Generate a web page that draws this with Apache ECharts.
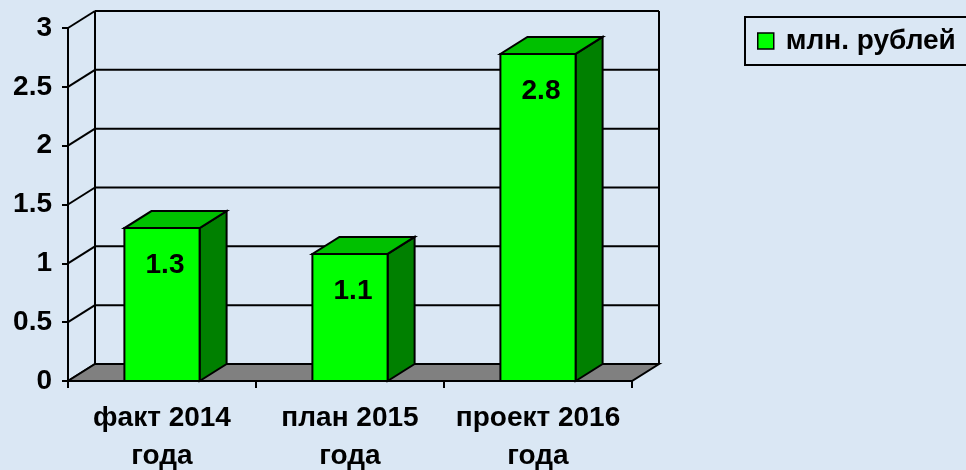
<!DOCTYPE html>
<html>
<head>
<meta charset="utf-8">
<script src="https://cdn.jsdelivr.net/npm/echarts@6/dist/echarts.min.js"></script>
<style>
  html, body { margin: 0; padding: 0; background: #dae7f4; }
  #chart { width: 966px; height: 470px; }
</style>
</head>
<body>
<div id="chart"></div>
<script>
// categories and values
const categories = ['факт 2014\nгода', 'план 2015\nгода', 'проект 2016\nгода'];
const values = [1.3, 1.08, 2.78];
const yTicks = [0, 0.5, 1, 1.5, 2, 2.5, 3];
const seriesName = 'млн. рублей';

// 3D depth offset of the walls and bars
const DX = 27;
const DY = -17;
const FONT = 'Liberation Sans, Arial, sans-serif';
const FONT_SIZE = 28;
const LINE = { stroke: '#000', lineWidth: 2 };

const chart = echarts.init(document.getElementById('chart'));

// walls: back gridlines, left wall diagonals, grey floor
function renderWalls (params, api) {
  const cs = params.coordSys;
  const x0 = cs.x;
  const x1 = cs.x + cs.width;
  const y = api.coord([0, api.value(1)])[1];
  const children = [
    { type: 'line', shape: { x1: x0 + DX, y1: y + DY, x2: x1 + DX, y2: y + DY }, style: LINE },
    { type: 'line', shape: { x1: x0, y1: y, x2: x0 + DX, y2: y + DY }, style: LINE }
  ];
  if (params.dataIndex === 0) {
    const yTop = api.coord([0, yTicks[yTicks.length - 1]])[1];
    children.push(
      { type: 'line', shape: { x1: x0 + DX, y1: yTop + DY, x2: x0 + DX, y2: y + DY }, style: LINE },
      { type: 'line', shape: { x1: x1 + DX, y1: yTop + DY, x2: x1 + DX, y2: y + DY }, style: LINE },
      {
        type: 'polygon',
        shape: { points: [[x0, y], [x1, y], [x1 + DX, y + DY], [x0 + DX, y + DY]] },
        style: { fill: '#808080', stroke: '#000', lineWidth: 2 }
      }
    );
  }
  return { type: 'group', children: children };
}

// 3D column: front face, top and right side
function renderBar (params, api) {
  const idx = api.value(0);
  const v = api.value(1);
  const top = api.coord([idx, v]);
  const base = api.coord([idx, 0]);
  const w = api.size([1, 0])[0] * 0.4;
  const xl = top[0] - w / 2;
  const xr = top[0] + w / 2;
  const yt = top[1];
  const yb = base[1];
  return {
    type: 'group',
    children: [
      {
        type: 'polygon',
        shape: { points: [[xr, yb], [xr, yt], [xr + DX, yt + DY], [xr + DX, yb + DY]] },
        style: { fill: '#008000', stroke: '#000', lineWidth: 2 }
      },
      {
        type: 'polygon',
        shape: { points: [[xl, yt], [xr, yt], [xr + DX, yt + DY], [xl + DX, yt + DY]] },
        style: { fill: '#00c000', stroke: '#000', lineWidth: 2 }
      },
      {
        type: 'rect',
        shape: { x: xl, y: yt, width: w, height: yb - yt },
        style: { fill: '#00ff00', stroke: '#000', lineWidth: 2 }
      },
      {
        type: 'text',
        style: {
          x: top[0] + 3,
          y: yt + 37,
          text: v.toFixed(1),
          align: 'center',
          verticalAlign: 'middle',
          font: 'bold ' + FONT_SIZE + 'px ' + FONT,
          fill: '#000'
        }
      }
    ]
  };
}

chart.setOption({
  backgroundColor: '#dae7f4',
  animation: false,
  grid: { left: 68, top: 28, width: 564, height: 353, outerBoundsMode: 'none' },
  legend: {
    data: [seriesName],
    left: 745,
    top: 17,
    padding: [9, 14, 9, 12],
    borderColor: '#000',
    borderWidth: 2,
    icon: 'rect',
    itemWidth: 16,
    itemHeight: 16,
    itemStyle: { borderColor: '#000', borderWidth: 1.5 },
    textStyle: { fontFamily: FONT, fontWeight: 'bold', fontSize: FONT_SIZE, color: '#000', lineHeight: 30, padding: [0, 0, 0, 7] }
  },
  xAxis: {
    type: 'category',
    data: categories,
    axisLine: { lineStyle: { color: '#000', width: 2 } },
    axisTick: { show: true, length: 7, lineStyle: { color: '#000', width: 2 } },
    axisLabel: {
      interval: 0,
      margin: 18,
      color: '#000',
      fontFamily: FONT,
      fontWeight: 'bold',
      fontSize: FONT_SIZE,
      lineHeight: 38
    },
    splitLine: { show: false }
  },
  yAxis: {
    type: 'value',
    min: 0,
    max: 3,
    interval: 0.5,
    axisLine: { show: true, lineStyle: { color: '#000', width: 2 } },
    axisTick: { show: true, length: 6, lineStyle: { color: '#000', width: 2 } },
    axisLabel: {
      margin: 16,
      color: '#000',
      fontFamily: FONT,
      fontWeight: 'bold',
      fontSize: FONT_SIZE
    },
    splitLine: { show: false }
  },
  series: [
    {
      name: 'walls',
      type: 'custom',
      renderItem: renderWalls,
      data: yTicks.map(t => [0, t]),
      encode: { x: 0, y: 1 },
      z: 1,
      silent: true
    },
    {
      name: seriesName,
      type: 'custom',
      renderItem: renderBar,
      data: values.map((v, i) => [i, v]),
      encode: { x: 0, y: 1 },
      itemStyle: { color: '#00ff00' },
      z: 3
    }
  ]
});
</script>
</body>
</html>
